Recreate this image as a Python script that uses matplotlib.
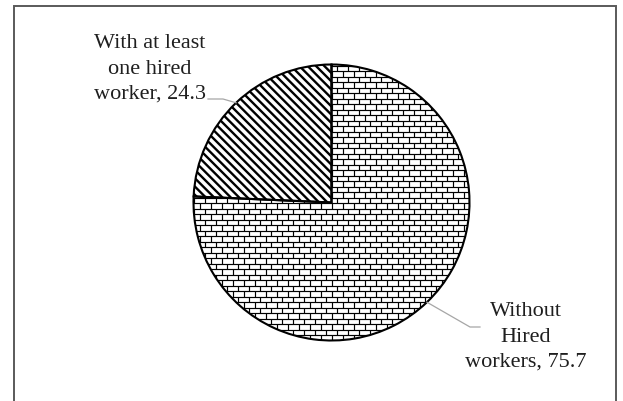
import numpy as np
import matplotlib.pyplot as plt
from matplotlib.collections import LineCollection
from matplotlib.patches import Rectangle

plt.rcParams['font.family'] = ['Liberation Serif', 'DejaVu Serif']
plt.rcParams['hatch.linewidth'] = 1.7

# farm households by use of hired labour (%)
labels = ['With at least\none hired\nworker, 24.3', 'Without\nHired\nworkers, 75.7']
shares = [24.3, 75.7]

W, H = 623, 401
fig = plt.figure(figsize=(W / 100, H / 100), dpi=100)
ax = fig.add_axes([0, 0, 1, 1])

cx, cy, r = 331.5, H - 202.5, 138
wedges, _ = ax.pie(shares, center=(cx, cy), radius=r, startangle=90, counterclock=True,
                   colors=['white', 'white'],
                   wedgeprops=dict(edgecolor='black', linewidth=1.5))
wedges[0].set_hatch('\\\\\\\\')

# brick texture for the big slice, clipped to the wedge
def px(v):
    return np.floor(v) + 0.5

row_h, brick_w = 5.5, 11.0
segs = []
rows = np.arange(cy - r - row_h, cy + r + row_h, row_h)
for i, y in enumerate(rows):
    y0, y1 = px(y), px(y + row_h)
    segs.append([(cx - r - 5, y0), (cx + r + 5, y0)])
    off = (brick_w / 2) * (i % 2)
    for x in np.arange(cx - r - brick_w + off, cx + r + brick_w, brick_w):
        segs.append([(px(x), y0), (px(x), y1)])
bricks = LineCollection(segs, colors='black', linewidths=0.85, zorder=1.5)
bricks.set_clip_path(wedges[1])
ax.add_collection(bricks)
wedges[1].set_zorder(2)
wedges[1].set_facecolor('none')

# leader lines from the middle of each slice
mids = [np.deg2rad((w.theta1 + w.theta2) / 2) for w in wedges]
edge = [(cx + r * np.cos(a), cy + r * np.sin(a)) for a in mids]
ax.plot([edge[0][0], 223, 208], [edge[0][1], H - 99, H - 99], color='#a6a6a6', lw=0.9)
ax.plot([edge[1][0], 470, 480], [edge[1][1], H - 327, H - 327], color='#a6a6a6', lw=0.9)

text_pos = [(150, H - 69), (526, H - 337)]
for lab, (tx, ty) in zip(labels, text_pos):
    ax.text(tx, ty, lab, ha='center', va='center', multialignment='center',
            fontsize=16, color='#1f1f1f', linespacing=1.45)

# chart border (open at the bottom)
ax.add_patch(Rectangle((13.5, -10), 616 - 13.5, H - 6 + 10, fill=False,
                       edgecolor='#5a5a5a', linewidth=1.4, zorder=5))

ax.set_xlim(0, W)
ax.set_ylim(0, H)
ax.set_aspect('auto')
ax.axis('off')

fig.savefig('out.png', dpi=100)
